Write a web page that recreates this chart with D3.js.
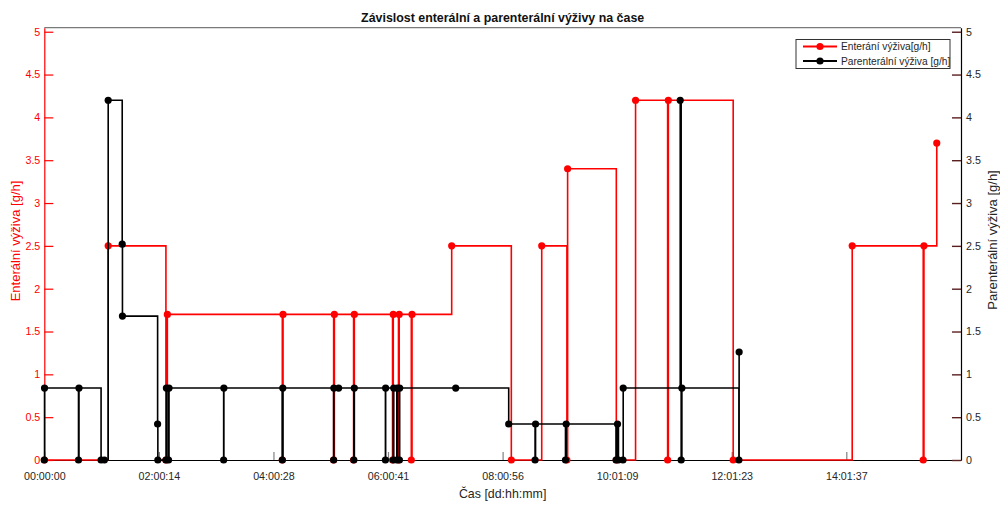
<!DOCTYPE html>
<html>
<head>
<meta charset="utf-8">
<script src="https://cdn.jsdelivr.net/npm/d3@7"></script>
<style>
  html, body { margin: 0; padding: 0; background: #fff; }
  svg { display: block; font-family: "Liberation Sans", Arial, sans-serif; }
</style>
</head>
<body>
<svg id="chart" width="1000" height="507"></svg>
<script>
// Time in hours since start of monitoring
const enteralTime = [0, 26.9, 51.2, 51.8, 100.2, 100.5, 121.8, 122.1, 130.2, 130.5,
  146.6, 146.9, 149.1, 149.4, 154.5, 154.8, 171.5, 196.6, 209.4, 220.0, 220.3,
  240.8, 248.9, 262.4, 262.7, 290.0, 340.1, 370.0, 370.3, 375.7];
const enteralRate = [0, 2.5, 0, 1.7, 0, 1.7, 0, 1.7, 0, 1.7,
  0, 1.7, 0, 1.7, 0, 1.7, 2.5, 0, 2.5, 0, 3.4,
  0, 4.2, 0, 4.2, 0, 2.5, 0, 2.5, 3.7];

const parenteralTime = [0, 0.1, 14.4, 14.6, 23.9, 25.3, 26.9, 32.8, 32.9, 47.7, 47.8,
  51.2, 51.4, 52.3, 52.5, 75.5, 75.6, 100.2, 100.4, 121.8, 121.9, 123.9,
  130.3, 130.5, 143.6, 143.7, 146.9, 147.1, 148.4, 148.6, 149.5, 149.6,
  173.2, 195.5, 206.6, 206.8, 219.4, 219.7, 240.7, 241.3, 241.7, 243.6, 243.7,
  267.7, 268.1, 268.4, 292.4, 292.5];
const parenteralRate = [0, 0.84, 0, 0.84, 0, 0, 4.2, 2.52, 1.68, 0.42, 0,
  0, 0.84, 0, 0.84, 0, 0.84, 0, 0.84, 0, 0.84, 0.84,
  0, 0.84, 0, 0.84, 0, 0.84, 0, 0.84, 0, 0.84,
  0.84, 0.42, 0, 0.42, 0, 0.42, 0, 0.42, 0, 0, 0.84,
  4.2, 0, 0.84, 0, 1.26];

const xTickLabels = ["00:00:00", "02:00:14", "04:00:28", "06:00:41",
  "08:00:56", "10:01:09", "12:01:23", "14:01:37"];
const yTicks = [0, 0.5, 1, 1.5, 2, 2.5, 3, 3.5, 4, 4.5, 5];

const xMax = 385.9;
const yMax = 5.047;

const RED = "#ff0000";
const BLACK = "#000000";
const FONT_TICK = "10.7px";

const svg = d3.select("#chart");
const plotL = 44.3, plotR = 961, plotT = 27.7, plotB = 460;

const x = d3.scaleLinear().domain([0, xMax]).range([plotL, plotR]);
const y = d3.scaleLinear().domain([0, yMax]).range([plotB, plotT]);

// tick label "dd:hh:mm" -> hours
const toHours = s => { const p = s.split(":").map(Number); return p[0] * 24 + p[1] + p[2] / 60; };

// frame: grey top edge
svg.append("line").attr("x1", plotL).attr("x2", plotR).attr("y1", plotT).attr("y2", plotT)
  .attr("stroke", "#7a7a7a").attr("stroke-width", 1.2);

// bottom axis
const xAxis = d3.axisBottom(x)
  .tickValues(xTickLabels.map(toHours))
  .tickFormat((d, i) => xTickLabels[i])
  .tickSizeInner(-8).tickSizeOuter(0).tickPadding(12);
const gx = svg.append("g").attr("transform", `translate(0,${plotB})`).call(xAxis);
gx.select(".domain").attr("stroke", BLACK).attr("stroke-width", 1.2);
gx.selectAll(".tick line").attr("stroke", "#808080").attr("stroke-width", 1.2);
gx.selectAll(".tick text").attr("font-size", FONT_TICK).attr("fill", "#262626")
  .attr("font-family", "Liberation Sans, Arial, sans-serif");

// left axis (enteral)
const yLeft = d3.axisLeft(y).tickValues(yTicks).tickFormat(d3.format("~g"))
  .tickSizeInner(-9).tickSizeOuter(0).tickPadding(4);
const gl = svg.append("g").attr("transform", `translate(${plotL},0)`).call(yLeft);
gl.select(".domain").attr("stroke", RED).attr("stroke-width", 1.2);
gl.selectAll(".tick line").attr("stroke", RED).attr("stroke-width", 1.2);
gl.selectAll(".tick text").attr("font-size", FONT_TICK).attr("fill", RED)
  .attr("font-family", "Liberation Sans, Arial, sans-serif");

// right axis (parenteral)
const yRight = d3.axisRight(y).tickValues(yTicks).tickFormat(d3.format("~g"))
  .tickSizeInner(-9).tickSizeOuter(0).tickPadding(5);
const gr = svg.append("g").attr("transform", `translate(${plotR},0)`).call(yRight);
gr.select(".domain").attr("stroke", BLACK).attr("stroke-width", 1.2);
gr.selectAll(".tick line").attr("stroke", "#5a1f1f").attr("stroke-width", 1.4);
gr.selectAll(".tick text").attr("font-size", FONT_TICK).attr("fill", "#262626")
  .attr("font-family", "Liberation Sans, Arial, sans-serif");

// series drawn as step functions with a marker at every sample
const step = d3.line().curve(d3.curveStepAfter).x(d => x(d[0])).y(d => y(d[1]));

function drawSeries(times, rates, color) {
  const pts = times.map((t, i) => [t, rates[i]]);
  const g = svg.append("g");
  g.append("path").datum(pts).attr("d", step)
    .attr("fill", "none").attr("stroke", color).attr("stroke-width", 1.6);
  g.selectAll("circle").data(pts).join("circle")
    .attr("cx", d => x(d[0])).attr("cy", d => y(d[1])).attr("r", 3.6)
    .attr("fill", color);
}
drawSeries(enteralTime, enteralRate, RED);
drawSeries(parenteralTime, parenteralRate, BLACK);

// title and axis titles
svg.append("text").attr("x", (plotL + plotR) / 2).attr("y", 22)
  .attr("text-anchor", "middle").attr("font-weight", "bold").attr("font-size", "12.4px")
  .attr("fill", "#111").text("Závislost enterální a parenterální výživy na čase");

svg.append("text").attr("x", (plotL + plotR) / 2).attr("y", 498)
  .attr("text-anchor", "middle").attr("font-size", "12.4px").attr("fill", "#262626")
  .text("Čas [dd:hh:mm]");

svg.append("text").attr("transform", "translate(19.5,241) rotate(-90)")
  .attr("text-anchor", "middle").attr("font-size", "13px").attr("fill", RED)
  .text("Enterální výživa [g/h]");

svg.append("text").attr("transform", "translate(996.5,240) rotate(-90)")
  .attr("text-anchor", "middle").attr("font-size", "13px").attr("fill", "#262626")
  .text("Parenterální výživa [g/h]");

// legend
const legendItems = [
  { label: "Enterání výživa[g/h]", color: RED },
  { label: "Parenterální výživa [g/h]", color: BLACK }
];
const lg = svg.append("g");
lg.append("rect").attr("x", 796).attr("y", 39.5).attr("width", 154).attr("height", 29)
  .attr("fill", "#fff").attr("stroke", "#333").attr("stroke-width", 1);
legendItems.forEach((it, i) => {
  const cy = 46.5 + i * 14.5;
  lg.append("line").attr("x1", 803).attr("x2", 837).attr("y1", cy).attr("y2", cy)
    .attr("stroke", it.color).attr("stroke-width", 1.8);
  lg.append("circle").attr("cx", 820).attr("cy", cy).attr("r", 3.6).attr("fill", it.color);
  lg.append("text").attr("x", 841).attr("y", cy).attr("dy", "0.35em")
    .attr("font-size", "10.2px").attr("fill", "#262626").text(it.label);
});
</script>
</body>
</html>
